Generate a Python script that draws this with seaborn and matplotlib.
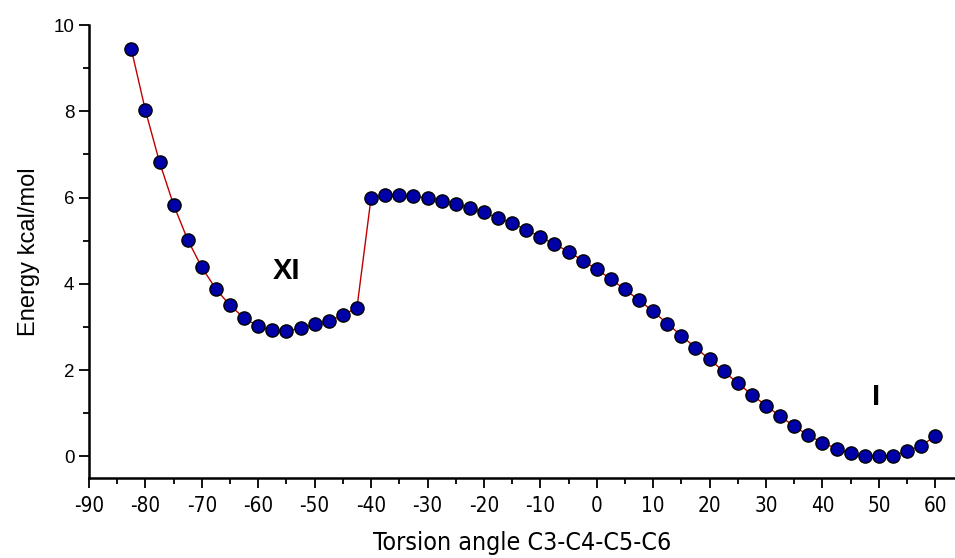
import matplotlib
matplotlib.use("Agg")
import matplotlib.pyplot as plt
import seaborn as sns
import pandas as pd
from matplotlib.ticker import MultipleLocator
from matplotlib import font_manager as fm

angle = [-82.5, -80, -77.5, -75, -72.5, -70, -67.5, -65, -62.5, -60, -57.5, -55,
         -52.5, -50, -47.5, -45, -42.5,
         -40, -37.5, -35, -32.5, -30, -27.5, -25, -22.5, -20, -17.5, -15, -12.5,
         -10, -7.5, -5, -2.5, 0, 2.5, 5, 7.5, 10, 12.5, 15, 17.5, 20, 22.5, 25,
         27.5, 30, 32.5, 35, 37.5, 40, 42.5, 45, 47.5, 50, 52.5, 55, 57.5, 60]
energy = [9.44, 8.02, 6.82, 5.83, 5.02, 4.38, 3.88, 3.50, 3.21, 3.02, 2.92, 2.91,
          2.97, 3.06, 3.15, 3.27, 3.45,
          6.00, 6.05, 6.06, 6.03, 5.99, 5.93, 5.86, 5.76, 5.66, 5.52, 5.41, 5.25,
          5.09, 4.92, 4.75, 4.54, 4.34, 4.11, 3.87, 3.62, 3.36, 3.08, 2.80, 2.52,
          2.25, 1.97, 1.70, 1.43, 1.18, 0.93, 0.70, 0.49, 0.32, 0.18, 0.07, 0.01,
          0.00, 0.02, 0.12, 0.25, 0.47]
labels = ["XI", "I"]
label_pos = [(-55, 4.3), (49.5, 1.38)]

df = pd.DataFrame({"angle": angle, "energy": energy})

sns.set_style("ticks")
plt.rcParams["font.family"] = ["Liberation Sans", "DejaVu Sans"]
plt.rcParams["text.color"] = "black"
plt.rcParams["axes.labelcolor"] = "black"
plt.rcParams["axes.unicode_minus"] = False

# choose a condensed face for the x axis texts, if one is installed
entries = fm.fontManager.ttflist
names = {f.name for f in entries}
if "Liberation Sans Narrow" in names:
    narrow = dict(family=["Liberation Sans Narrow", "DejaVu Sans"], stretch="normal")
    nscale = 1.25
elif any(f.name == "DejaVu Sans" and f.stretch in ("condensed", "semi-condensed") for f in entries):
    narrow = dict(family=["DejaVu Sans"], stretch="condensed")
    nscale = 1.1
else:
    narrow = dict(family=["Liberation Sans", "DejaVu Sans"], stretch="normal")
    nscale = 1.0

fig = plt.figure(figsize=(9.55, 5.58), dpi=100)
ax = fig.add_axes([89/955, 1-478/558, 1-89/955, (478-25)/558])

sns.lineplot(data=df, x="angle", y="energy", ax=ax, color="#C00000", linewidth=1.0,
             marker="o", markersize=9.5, markerfacecolor="#0000A8",
             markeredgecolor="black", markeredgewidth=1.0)

for t, (x, y) in zip(labels, label_pos):
    ax.text(x, y, t, fontsize=21, fontweight="bold", ha="center", va="center",
            color="black")

ax.set_xlim(-90, 63.5)
ax.set_ylim(-0.5, 10)
ax.xaxis.set_major_locator(MultipleLocator(10))
ax.xaxis.set_minor_locator(MultipleLocator(5))
ax.yaxis.set_major_locator(MultipleLocator(2))
ax.yaxis.set_minor_locator(MultipleLocator(1))
ax.tick_params(which="major", length=7, width=1.3, direction="out", labelsize=13.5,
               colors="black", labelcolor="black")
ax.tick_params(which="minor", length=4, width=1.3, direction="out", colors="black")
ax.tick_params(axis="x", which="major", pad=6)
for s in ["top", "right"]:
    ax.spines[s].set_visible(False)
for s in ["left", "bottom"]:
    ax.spines[s].set_linewidth(1.8)
    ax.spines[s].set_color("black")

for lab in ax.get_xticklabels():
    lab.set_family(narrow["family"])
    lab.set_stretch(narrow["stretch"])
    lab.set_fontsize(13.5 * nscale)
ax.set_xlabel("Torsion angle C3-C4-C5-C6", fontsize=16.3 * nscale,
              family=narrow["family"], stretch=narrow["stretch"], labelpad=11)
ax.set_ylabel("Energy kcal/mol", fontsize=17, labelpad=10)

fig.savefig("out.png", dpi=100)
